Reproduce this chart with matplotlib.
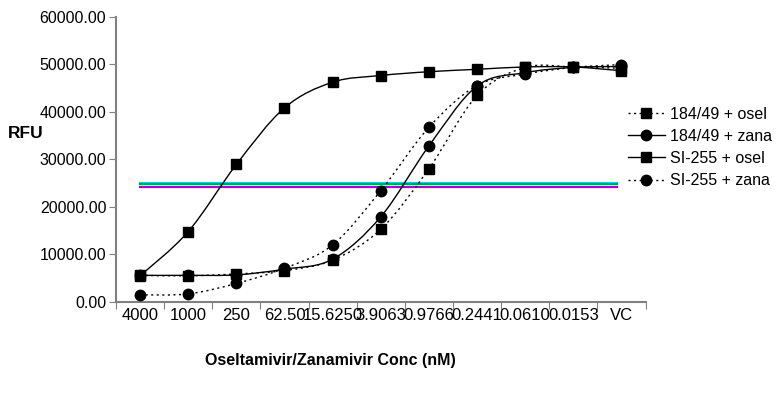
import numpy as np
import matplotlib
matplotlib.use('Agg')
import matplotlib.pyplot as plt
from matplotlib.path import Path
from matplotlib.patches import PathPatch
from matplotlib.lines import Line2D

plt.rcParams['font.family'] = ['Liberation Sans', 'DejaVu Sans']

conc_labels = ['4000', '1000', '250', '62.50', '15.6250', '3.9063', '0.9766',
               '0.2441', '0.0610', '0.0153', 'VC']

b184_osel = [5600, 5500, 5900, 6600, 8800, 15300, 28000, 43400, 49300, 49400, 49100]
b184_zana = [5600, 5600, 5700, 6900, 9000, 17900, 32800, 45400, 48200, 49300, 49500]
si255_osel = [5500, 14800, 28900, 40800, 46200, 47600, 48400, 48900, 49400, 49400, 48600]
si255_zana = [1500, 1700, 3900, 7100, 12000, 23400, 36700, 45500, 47900, 49300, 49900]

# half-max reference lines
half_max = [24950, 24700, 24150]
half_colors = ['#00e0e0', '#00a050', '#b000d0']

dots = (0, (1.5, 2.5))
series = [
    ('184/49 + osel', b184_osel, dots, 's'),
    ('184/49 + zana', b184_zana, '-', 'o'),
    ('SI-255 + osel', si255_osel, '-', 's'),
    ('SI-255 + zana', si255_zana, dots, 'o'),
]


def smooth_path(xs, ys):
    # Catmull-Rom spline through the points, drawn as bezier segments
    pts = np.column_stack([xs, ys]).astype(float)
    pad = np.vstack([pts[0], pts, pts[-1]])
    verts = [pts[0]]
    codes = [Path.MOVETO]
    for i in range(1, len(pad) - 2):
        p0, p1, p2, p3 = pad[i - 1], pad[i], pad[i + 1], pad[i + 2]
        c1 = p1 + (p2 - p0) / 6
        c2 = p2 - (p3 - p1) / 6
        verts += [c1, c2, p2]
        codes += [Path.CURVE4] * 3
    return Path(verts, codes)


fig = plt.figure(figsize=(7.77, 3.96), dpi=100)
ax = fig.add_axes([0.1493, 0.2374, 0.6815, 0.7209])

x = np.arange(len(conc_labels))

for val, col in zip(half_max, half_colors):
    ax.plot([0, 9.9], [val, val], color=col, lw=1.6, zorder=1)

handles = []
for name, ys, ls, mk in series:
    ax.add_patch(PathPatch(smooth_path(x, ys), fill=False, edgecolor='black',
                           linestyle=ls, lw=1.0, zorder=2))
    ax.plot(x, ys, linestyle='none', marker=mk, color='black',
            markersize=7.5, zorder=3)
    handles.append(Line2D([], [], color='black', linestyle=ls, lw=1.0,
                          marker=mk, markersize=7.5, label=name))

ax.set_xlim(-0.5, len(conc_labels) - 0.5)
ax.set_ylim(0, 60000)
ax.set_yticks(np.arange(0, 60001, 10000))
ax.set_yticklabels([f'{v:.2f}' for v in np.arange(0, 60001, 10000)], fontsize=11.5)
ax.set_xticks(np.arange(-0.5, len(conc_labels), 1))
ax.set_xticklabels([])
ax.set_xticks(x, minor=True)
ax.set_xticklabels(conc_labels, minor=True, fontsize=12)
ax.tick_params(axis='x', which='minor', length=0, pad=4)
ax.tick_params(axis='x', which='major', length=5, color='#808080')
ax.tick_params(axis='y', length=5, color='#808080', pad=2)

for side in ['top', 'right']:
    ax.spines[side].set_visible(False)
for side in ['left', 'bottom']:
    ax.spines[side].set_color('#808080')
    ax.spines[side].set_linewidth(1.5)

fig.text(0.010, 0.664, 'RFU', fontsize=12.5, fontweight='bold', va='center')
fig.text(0.425, 0.09, 'Oseltamivir/Zanamivir Conc (nM)', fontsize=11.5,
         fontweight='bold', ha='center', va='center')

fig.legend(handles=handles, loc='center left', bbox_to_anchor=(0.80, 0.628),
           frameon=False, fontsize=11.5, handlelength=2.3, handletextpad=0.3,
           labelspacing=0.45, borderaxespad=0)

fig.savefig('out.png', dpi=100)
